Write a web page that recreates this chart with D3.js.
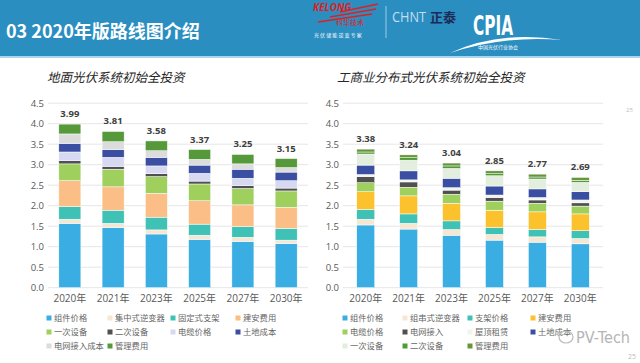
<!DOCTYPE html>
<meta charset="utf-8">
<style>
body { margin: 0; background: #fff; }
text { font-family: "Open Sans", "Noto Sans CJK SC", sans-serif; }
.axis text { fill: #595959; font-size: 9.5px; }
.grid line { stroke: #e6e6e6; stroke-width: 1; }
.legend text { fill: #666; font-size: 8.3px; font-family: "Noto Sans CJK SC", sans-serif; }
</style>
<svg width="640" height="363"></svg>
<script src="https://cdn.jsdelivr.net/npm/d3@7"></script>
<script>

var years = ["2020年", "2021年", "2023年", "2025年", "2027年", "2030年"];
var yTicks = [0, 0.5, 1.0, 1.5, 2.0, 2.5, 3.0, 3.5, 4.0, 4.5];

// 地面光伏系统 (元/W)
var groundNames = ["组件价格", "集中式逆变器", "固定式支架", "建安费用", "一次设备",
                   "二次设备", "电缆价格", "土地成本", "电网接入成本", "管理费用"];
var groundColors = ["#3aaee2", "#f6e7d2", "#3fc1b5", "#fbbe86", "#9fd05e",
                    "#505050", "#d6d9f1", "#3a4ea2", "#dcdcdc", "#55993a"];
var gModule   = [1.57, 1.47, 1.31, 1.18, 1.13, 1.08];
var gInverter = [0.10, 0.10, 0.10, 0.10, 0.10, 0.08];
var gBracket  = [0.31, 0.32, 0.31, 0.27, 0.26, 0.29];
var gBuild    = [0.63, 0.57, 0.58, 0.57, 0.53, 0.51];
var gPrimary  = [0.41, 0.43, 0.41, 0.41, 0.40, 0.40];
var gSecond   = [0.08, 0.07, 0.07, 0.07, 0.07, 0.07];
var gCable    = [0.21, 0.22, 0.19, 0.19, 0.18, 0.18];
var gLand     = [0.21, 0.19, 0.21, 0.20, 0.22, 0.21];
var gGrid     = [0.23, 0.19, 0.16, 0.14, 0.13, 0.11];
var gManage   = [0.24, 0.25, 0.24, 0.24, 0.23, 0.22];
var groundTotals = [3.99, 3.81, 3.58, 3.37, 3.25, 3.15];

// 工商业分布式光伏系统 (元/W)
var roofNames = ["组件价格", "组串式逆变器", "支架价格", "建安费用", "电缆价格", "电网接入",
                 "屋顶租赁", "土地成本", "一次设备", "二次设备", "管理费用"];
var roofColors = ["#3aaee2", "#f6e7d2", "#3fc1b5", "#fbc22e", "#9fd05e", "#505050",
                  "#f1f5ee", "#3a4ea2", "#e4eedf", "#4f9b3b", "#66953a"];
var rModule   = [1.53, 1.43, 1.28, 1.16, 1.11, 1.07];
var rInverter = [0.14, 0.14, 0.14, 0.14, 0.13, 0.13];
var rBracket  = [0.24, 0.23, 0.21, 0.17, 0.18, 0.19];
var rBuild    = [0.43, 0.44, 0.43, 0.42, 0.43, 0.41];
var rCable    = [0.22, 0.21, 0.22, 0.22, 0.21, 0.19];
var rGrid     = [0.15, 0.13, 0.10, 0.09, 0.08, 0.08];
var rRent     = [0.05, 0.05, 0.06, 0.06, 0.06, 0.07];
var rLand     = [0.23, 0.22, 0.23, 0.22, 0.21, 0.20];
var rPrimary  = [0.27, 0.26, 0.24, 0.25, 0.24, 0.23];
var rSecond   = [0.05, 0.06, 0.06, 0.05, 0.05, 0.05];
var rManage   = [0.07, 0.07, 0.07, 0.07, 0.07, 0.07];
var roofTotals = [3.38, 3.24, 3.04, 2.85, 2.77, 2.69];

var groundSeries = [gModule, gInverter, gBracket, gBuild, gPrimary, gSecond, gCable, gLand, gGrid, gManage];
var roofSeries = [rModule, rInverter, rBracket, rBuild, rCable, rGrid, rRent, rLand, rPrimary, rSecond, rManage];

var svg = d3.select("svg");

// header band
svg.append("rect").attr("x", 0).attr("y", 0).attr("width", 640).attr("height", 56).attr("fill", "#2a8ec1");
svg.append("rect").attr("x", 0).attr("y", 56).attr("width", 640).attr("height", 2).attr("fill", "#a9d6ec");
svg.append("text").attr("x", 6).attr("y", 38)
    .attr("fill", "#fff").style("font-size", "18px").style("font-weight", "bold")
    .style("font-family", "'Noto Sans CJK SC', sans-serif")
    .text("03 2020年版路线图介绍");

// logos (rough)
var logo = svg.append("g");
logo.append("text").attr("x", 313).attr("y", 11).attr("fill", "#e02020")
    .style("font-size", "10px").style("font-style", "italic").style("font-weight", "bold").text("KELONG");
[[340, 12, 378, 4], [330, 17, 376, 9], [318, 22, 372, 14]].forEach(function(l) {
  logo.append("line").attr("x1", l[0]).attr("y1", l[1]).attr("x2", l[2]).attr("y2", l[3])
      .attr("stroke", "#e02020").attr("stroke-width", 1.6);
});
logo.append("text").attr("x", 336).attr("y", 25).attr("fill", "#e02020")
    .style("font-size", "7px").style("font-family", "'Noto Sans CJK SC'").text("科华技术");
logo.append("text").attr("x", 314).attr("y", 37).attr("fill", "#fff")
    .style("font-size", "5px").style("font-family", "'Noto Sans CJK SC'").text("光 伏 储 能 逆 变 专 家");
logo.append("line").attr("x1", 386).attr("y1", 6).attr("x2", 386).attr("y2", 38)
    .attr("stroke", "#9ccbe4").attr("stroke-width", 1);
logo.append("text").attr("x", 392).attr("y", 22).attr("fill", "#c4dff0")
    .style("font-size", "14px").attr("textLength", 34).attr("lengthAdjust", "spacingAndGlyphs").text("CHNT");
logo.append("text").attr("x", 430).attr("y", 22).attr("fill", "#1d2a55")
    .style("font-size", "13px").style("font-weight", "bold").style("font-family", "'Noto Sans CJK SC'").text("正泰");
logo.append("text").attr("x", 473).attr("y", 35).attr("fill", "#fff")
    .style("font-size", "26px").style("font-weight", "bold").style("font-family", "'DejaVu Sans Condensed', sans-serif")
    .attr("textLength", 40).attr("lengthAdjust", "spacingAndGlyphs").text("CPIA");
logo.append("path").attr("d", "M450,53 Q500,30 562,40 Q505,35 450,53 Z")
    .attr("fill", "#fff");
logo.append("text").attr("x", 478).attr("y", 49).attr("fill", "#fff")
    .style("font-size", "5px").style("font-family", "'Noto Sans CJK SC'").text("中国光伏行业协会");

function drawChart(opt) {
  var g = svg.append("g");
  var y = d3.scaleLinear().domain([0, 4.5]).range([287.7, 103.2]);
  var x = d3.scaleBand().domain(years).range([opt.x0, opt.x1])
      .paddingInner(opt.padIn).paddingOuter(opt.padOut);

  g.append("text").attr("x", opt.titleX).attr("y", 82)
      .attr("fill", "#262626").style("font-size", "12.5px").style("font-style", "italic")
      .style("font-family", "'Noto Sans CJK SC', sans-serif")
      .text(opt.title);

  g.append("g").attr("class", "grid")
    .selectAll("line").data(yTicks).enter().append("line")
      .attr("x1", opt.x0).attr("x2", opt.x1)
      .attr("y1", function(d) { return y(d); }).attr("y2", function(d) { return y(d); });

  var yAxis = g.append("g").attr("class", "axis")
      .attr("transform", "translate(" + (opt.x0 - 4) + ",0)")
      .call(d3.axisLeft(y).tickValues(yTicks).tickFormat(d3.format(".1f")).tickSize(0).tickPadding(0));
  yAxis.select(".domain").remove();

  var xAxis = g.append("g").attr("class", "axis")
      .attr("transform", "translate(0,288)")
      .call(d3.axisBottom(x).tickSize(0).tickPadding(7));
  xAxis.select(".domain").remove();
  xAxis.selectAll("text").style("font-size", "10px").style("font-family", "'Open Sans', 'Noto Sans CJK SC'");

  var rows = years.map(function(yr, i) {
    var r = { year: yr };
    opt.series.forEach(function(s, k) { r[k] = s[i]; });
    return r;
  });
  var stack = d3.stack().keys(d3.range(opt.series.length))(rows);

  g.selectAll(".layer").data(stack).enter().append("g")
      .attr("fill", function(d, k) { return opt.colors[k]; })
    .selectAll("rect").data(function(d) { return d; }).enter().append("rect")
      .attr("x", function(d) { return x(d.data.year); })
      .attr("width", x.bandwidth())
      .attr("y", function(d) { return y(d[1]); })
      .attr("height", function(d) { return y(d[0]) - y(d[1]); })
      .attr("stroke", "#fff").attr("stroke-width", 0.5);

  g.selectAll(".total").data(opt.totals).enter().append("text")
      .attr("x", function(d, i) { return x(years[i]) + x.bandwidth() / 2; })
      .attr("y", function(d) { return y(d) - 7; })
      .attr("text-anchor", "middle").attr("fill", "#404040")
      .style("font-size", "9.5px").style("font-weight", "bold")
      .text(function(d) { return d3.format(".2f")(d); });

  var lg = g.append("g").attr("class", "legend");
  opt.names.forEach(function(n, k) {
    var cx = opt.legendX[k % 4], cy = 318 + Math.floor(k / 4) * 14;
    lg.append("rect").attr("x", cx - 2.5).attr("y", cy - 2.5).attr("width", 5).attr("height", 5)
        .attr("fill", opt.colors[k]);
    lg.append("text").attr("x", cx + 5).attr("y", cy + 3.3).text(n);
  });
}

drawChart({
  title: "地面光伏系统初始全投资", titleX: 47,
  x0: 48, x1: 308, padIn: 0.49, padOut: 0.25,
  series: groundSeries, colors: groundColors, names: groundNames, totals: groundTotals,
  legendX: [49, 110, 173, 238]
});

drawChart({
  title: "工商业分布式光伏系统初始全投资", titleX: 337,
  x0: 343, x1: 603, padIn: 0.58, padOut: 0.32,
  series: roofSeries, colors: roofColors, names: roofNames, totals: roofTotals,
  legendX: [345, 405, 470, 533]
});

// watermark and page numbers
svg.append("ellipse").attr("cx", 566).attr("cy", 337).attr("rx", 7).attr("ry", 6)
    .attr("fill", "none").attr("stroke", "#bbb").attr("stroke-width", 1.2);
svg.append("text").attr("x", 576).attr("y", 343).attr("fill", "#b5b5b5")
    .style("font-size", "16px").style("font-family", "'DejaVu Sans', sans-serif")
    .attr("textLength", 54).attr("lengthAdjust", "spacingAndGlyphs").text("PV-Tech");
svg.append("text").attr("x", 626).attr("y", 112).attr("fill", "#bbb").style("font-size", "6px").text("25");
svg.append("text").attr("x", 628).attr("y", 359).attr("fill", "#bbb").style("font-size", "7px").text("25");

</script>
